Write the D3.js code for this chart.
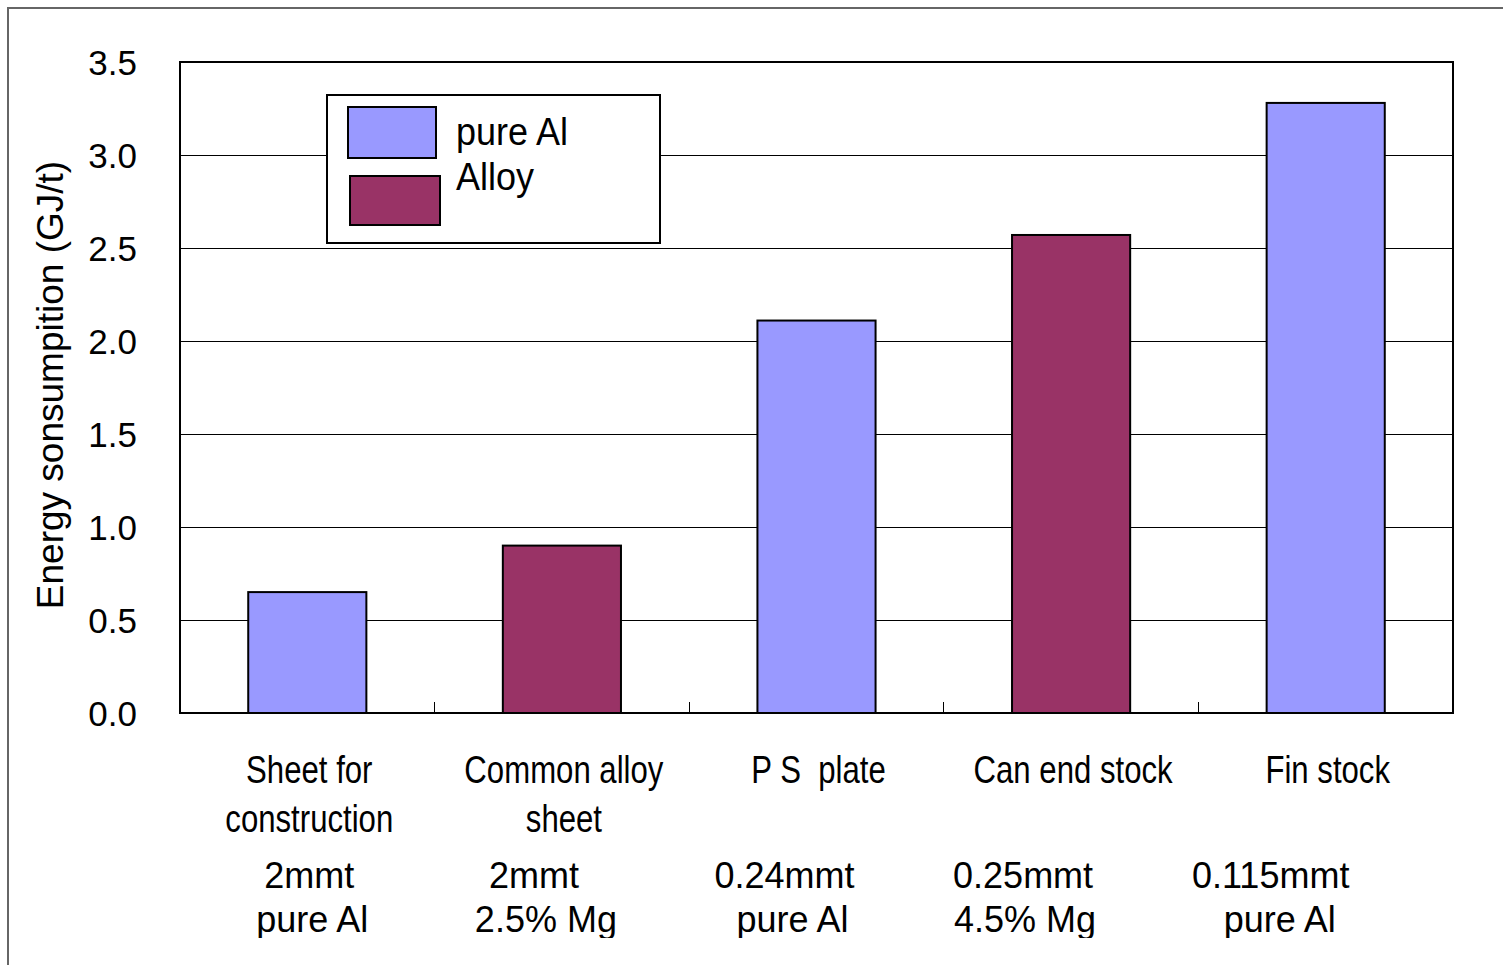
<!DOCTYPE html>
<html>
<head>
<meta charset="utf-8">
<script src="https://cdn.jsdelivr.net/npm/d3@7"></script>
<style>
  body { margin: 0; background: #fff; }
  svg { display: block; }
  text { font-family: "Liberation Sans", Arial, sans-serif; fill: #000; }
</style>
</head>
<body>
<svg width="1503" height="965"></svg>
<script>
// data
var categories = ["Sheet for construction", "Common alloy sheet", "PS plate", "Can end stock", "Fin stock"];
var catLines = [["Sheet for", "construction"], ["Common alloy", "sheet"], ["P S  plate"], ["Can end stock"], ["Fin stock"]];
var energy = [0.65, 0.90, 2.11, 2.57, 3.28];
var material = ["pure Al", "Alloy", "pure Al", "Alloy", "pure Al"];
var thickness = ["2mmt", "2mmt", "0.24mmt", "0.25mmt", "0.115mmt"];
var composition = ["pure Al", "2.5% Mg", "pure Al", "4.5% Mg", "pure Al"];
var yTicks = [0, 0.5, 1.0, 1.5, 2.0, 2.5, 3.0, 3.5];
var seriesNames = ["pure Al", "Alloy"];

// layout
var plotL = 180, plotR = 1453, plotT = 62, plotB = 713;
var thickNudge = [2, -28, -32, -48, -55];
var compNudge = [5, -16, -24, -46, -46];

var color = d3.scaleOrdinal().domain(seriesNames).range(["#9999FF", "#993366"]);

var svg = d3.select("svg");

// outer frame
svg.append("rect")
    .attr("x", 8).attr("y", 8)
    .attr("width", 1510).attr("height", 970)
    .attr("fill", "none")
    .attr("stroke", "#666")
    .attr("stroke-width", 2);

var x = d3.scaleBand()
    .domain(categories)
    .range([plotL, plotR])
    .paddingInner(0.536)
    .paddingOuter(0.268);

var xCat = d3.scaleBand().domain(categories).range([plotL, plotR]);

var y = d3.scaleLinear().domain([0, 3.5]).range([plotB, plotT]);

// grid
svg.append("g")
    .attr("shape-rendering", "crispEdges")
    .selectAll("line")
    .data(yTicks.slice(1, -1))
    .enter().append("line")
    .attr("x1", plotL).attr("x2", plotR)
    .attr("y1", function(d) { return y(d); })
    .attr("y2", function(d) { return y(d); })
    .attr("stroke", "#000")
    .attr("stroke-width", 1);

// y labels
svg.append("g")
    .selectAll("text")
    .data(yTicks)
    .enter().append("text")
    .attr("x", 137)
    .attr("y", function(d) { return y(d); })
    .attr("dy", "0.36em")
    .attr("text-anchor", "end")
    .style("font-size", "35px")
    .text(function(d) { return d.toFixed(1); });

// bars
svg.append("g")
    .selectAll("rect")
    .data(energy)
    .enter().append("rect")
    .attr("x", function(d, i) { return x(categories[i]); })
    .attr("y", function(d) { return y(d); })
    .attr("width", x.bandwidth())
    .attr("height", function(d) { return y(0) - y(d); })
    .attr("fill", function(d, i) { return color(material[i]); })
    .attr("stroke", "#000")
    .attr("stroke-width", 2);

// x ticks between categories
svg.append("g")
    .attr("shape-rendering", "crispEdges")
    .selectAll("line")
    .data(categories.slice(1))
    .enter().append("line")
    .attr("x1", function(d) { return xCat(d); })
    .attr("x2", function(d) { return xCat(d); })
    .attr("y1", plotB)
    .attr("y2", plotB - 11)
    .attr("stroke", "#000")
    .attr("stroke-width", 1);

// plot frame
svg.append("rect")
    .attr("x", plotL).attr("y", plotT)
    .attr("width", plotR - plotL).attr("height", plotB - plotT)
    .attr("fill", "none")
    .attr("stroke", "#000")
    .attr("stroke-width", 2);

// category labels (narrow face faked with a horizontal squeeze)
var catG = svg.append("g");
catLines.forEach(function(lines, i) {
  var cx = xCat(categories[i]) + xCat.bandwidth() / 2 + 2;
  lines.forEach(function(t, j) {
    catG.append("text")
        .attr("transform", "translate(" + cx + "," + (783 + j * 49) + ") scale(0.82,1)")
        .attr("text-anchor", "middle")
        .style("font-size", "38px")
        .style("white-space", "pre")
        .text(t);
  });
});

// thickness / composition notes, cut off at the bottom
svg.append("clipPath").attr("id", "cut")
  .append("rect").attr("x", 0).attr("y", 0).attr("width", 1503).attr("height", 938);

var noteG = svg.append("g").attr("clip-path", "url(#cut)");
thickness.forEach(function(t, i) {
  var cx = xCat(categories[i]) + xCat.bandwidth() / 2;
  noteG.append("text")
      .attr("x", cx + thickNudge[i])
      .attr("y", 888)
      .attr("text-anchor", "middle")
      .style("font-size", "36px")
      .text(t);
  noteG.append("text")
      .attr("x", cx + compNudge[i])
      .attr("y", 932)
      .attr("text-anchor", "middle")
      .style("font-size", "36px")
      .text(composition[i]);
});

// y title
svg.append("text")
    .attr("transform", "translate(63,385) rotate(-90)")
    .attr("text-anchor", "middle")
    .style("font-size", "37px")
    .text("Energy sonsumpition (GJ/t)");

// legend
var legend = svg.append("g");
legend.append("rect")
    .attr("x", 327).attr("y", 95)
    .attr("width", 333).attr("height", 148)
    .attr("fill", "#fff")
    .attr("stroke", "#000")
    .attr("stroke-width", 2);

var swatches = [[348, 107, 88, 51], [350, 176, 90, 49]];
seriesNames.forEach(function(s, i) {
  var sw = swatches[i];
  legend.append("rect")
      .attr("x", sw[0]).attr("y", sw[1])
      .attr("width", sw[2]).attr("height", sw[3])
      .attr("fill", color(s))
      .attr("stroke", "#000")
      .attr("stroke-width", 2);
  legend.append("text")
      .attr("transform", "translate(456," + (145 + i * 45) + ") scale(1,1.08)")
      .style("font-size", "36px")
      .text(s);
});
</script>
</body>
</html>
